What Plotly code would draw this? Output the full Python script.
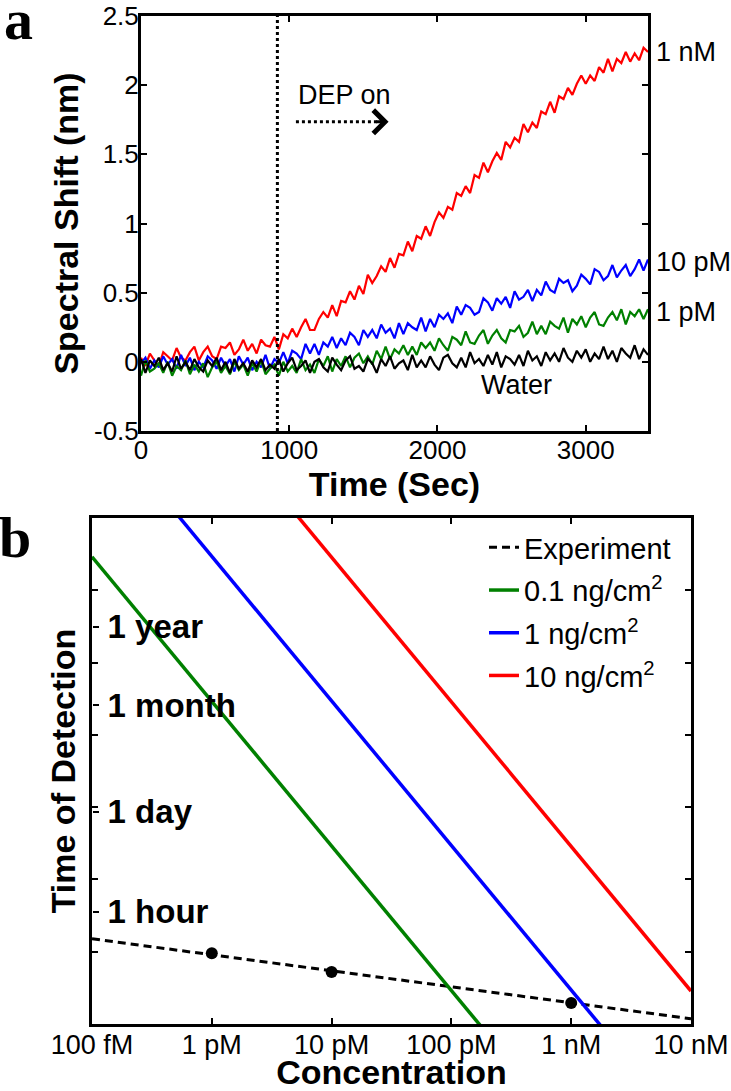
import plotly.graph_objects as go

# ---------------- Panel a data ----------------
time_s = [0, 30, 60, 90, 120, 150, 180, 210, 240, 270, 300, 330, 360, 390, 420, 450, 480, 510,
          540, 570, 600, 630, 660, 690, 720, 750, 780, 810, 840, 870, 900, 930, 960, 990, 1020,
          1050, 1080, 1110, 1140, 1170, 1200, 1230, 1260, 1290, 1320, 1350, 1380, 1410, 1440,
          1470, 1500, 1530, 1560, 1590, 1620, 1650, 1680, 1710, 1740, 1770, 1800, 1830, 1860,
          1890, 1920, 1950, 1980, 2010, 2040, 2070, 2100, 2130, 2160, 2190, 2220, 2250, 2280,
          2310, 2340, 2370, 2400, 2430, 2460, 2490, 2520, 2550, 2580, 2610, 2640, 2670, 2700,
          2730, 2760, 2790, 2820, 2850, 2880, 2910, 2940, 2970, 3000, 3030, 3060, 3090, 3120,
          3150, 3180, 3210, 3240, 3270, 3300, 3330, 3360, 3390, 3420]

shift_1nM = [0.03, -0.03, 0.06, 0.01, -0.03, 0.07, 0.04, 0.01, 0.10, 0.03, 0.01, 0.07, 0.11, 0.01,
             0.07, 0.11, 0.04, 0.02, 0.11, 0.10, 0.14, 0.05, 0.09, 0.16, 0.08, 0.13, 0.06, 0.16,
             0.12, 0.11, 0.18, 0.09, 0.20, 0.17, 0.24, 0.18, 0.25, 0.31, 0.23, 0.23, 0.31, 0.36,
             0.32, 0.41, 0.33, 0.44, 0.43, 0.51, 0.45, 0.55, 0.49, 0.63, 0.57, 0.62, 0.69, 0.65,
             0.75, 0.68, 0.78, 0.77, 0.87, 0.80, 0.91, 0.89, 0.98, 0.91, 1.01, 1.08, 1.04, 1.12,
             1.10, 1.22, 1.20, 1.27, 1.22, 1.35, 1.33, 1.44, 1.37, 1.45, 1.51, 1.46, 1.59, 1.55,
             1.62, 1.59, 1.72, 1.66, 1.73, 1.69, 1.81, 1.79, 1.88, 1.80, 1.92, 1.90, 1.98, 1.93,
             2.01, 2.07, 2.01, 2.07, 2.03, 2.13, 2.09, 2.19, 2.10, 2.19, 2.16, 2.24, 2.17, 2.23,
             2.18, 2.27, 2.24]

shift_10pM = [-0.01, 0.03, -0.05, 0.01, -0.04, 0.04, -0.02, 0.02, -0.05, 0.05, -0.03, 0.03, -0.06,
              0.00, -0.04, 0.04, 0.01, -0.05, 0.03, -0.03, 0.02, -0.07, 0.04, -0.02, 0.03, -0.06,
              0.00, -0.04, 0.05, -0.05, 0.02, -0.01, 0.07, -0.01, 0.08, 0.06, 0.02, 0.13, 0.06,
              0.13, 0.05, 0.14, 0.11, 0.18, 0.10, 0.17, 0.12, 0.21, 0.18, 0.12, 0.23, 0.18, 0.23,
              0.17, 0.27, 0.21, 0.24, 0.17, 0.28, 0.20, 0.28, 0.25, 0.23, 0.32, 0.22, 0.31, 0.25,
              0.34, 0.31, 0.35, 0.28, 0.40, 0.34, 0.41, 0.39, 0.34, 0.36, 0.46, 0.43, 0.37, 0.46,
              0.42, 0.47, 0.39, 0.51, 0.45, 0.47, 0.52, 0.44, 0.52, 0.48, 0.58, 0.52, 0.50, 0.60,
              0.57, 0.59, 0.51, 0.55, 0.63, 0.60, 0.56, 0.67, 0.65, 0.59, 0.62, 0.70, 0.61, 0.66,
              0.70, 0.62, 0.67, 0.74, 0.66, 0.74]

shift_1pM = [-0.10, 0.01, -0.07, -0.05, -0.01, -0.08, 0.00, -0.10, -0.03, -0.06, 0.01, -0.09,
             -0.02, -0.07, -0.01, -0.11, -0.04, 0.00, -0.08, -0.03, -0.09, 0.00, -0.06, -0.02,
             -0.10, -0.01, -0.07, 0.01, -0.09, -0.05, -0.02, -0.10, 0.00, -0.07, -0.03, -0.08,
             0.02, -0.06, -0.02, -0.08, 0.02, -0.03, 0.04, -0.07, 0.02, -0.03, 0.04, -0.04, 0.03,
             0.06, -0.01, 0.04, -0.02, 0.08, 0.02, 0.11, 0.02, 0.09, 0.06, 0.12, 0.05, 0.11, 0.05,
             0.14, 0.10, 0.14, 0.08, 0.17, 0.12, 0.08, 0.18, 0.16, 0.12, 0.22, 0.14, 0.13, 0.19,
             0.23, 0.13, 0.19, 0.23, 0.17, 0.14, 0.23, 0.22, 0.26, 0.18, 0.21, 0.29, 0.20, 0.26,
             0.20, 0.29, 0.26, 0.24, 0.32, 0.21, 0.31, 0.27, 0.33, 0.25, 0.32, 0.36, 0.27, 0.26,
             0.32, 0.36, 0.30, 0.38, 0.27, 0.36, 0.33, 0.38, 0.31, 0.38]

shift_water = [0.02, -0.08, 0.01, -0.03, 0.03, -0.06, -0.01, -0.07, 0.04, -0.05, 0.00, -0.06,
               0.02, -0.04, -0.07, 0.01, -0.03, 0.03, -0.06, 0.00, -0.08, 0.02, -0.05, -0.01,
               -0.07, 0.01, -0.04, 0.02, -0.06, -0.02, -0.05, 0.02, -0.07, -0.01, 0.03, -0.06,
               -0.03, 0.01, -0.08, 0.00, 0.02, -0.04, -0.07, 0.03, -0.02, -0.06, 0.01, 0.04,
               -0.05, -0.03, -0.07, 0.02, -0.01, -0.08, 0.02, -0.03, 0.04, -0.05, -0.01, 0.01,
               -0.06, 0.05, -0.04, 0.01, -0.04, 0.04, -0.02, -0.06, 0.03, 0.05, -0.01, -0.04,
               0.03, -0.04, 0.07, -0.01, 0.02, -0.03, 0.05, -0.02, 0.07, -0.04, 0.04, 0.02,
               -0.02, 0.05, -0.03, 0.08, 0.01, 0.04, -0.03, 0.07, 0.01, 0.06, 0.00, 0.10, 0.03,
               0.00, 0.08, 0.03, 0.09, 0.00, 0.06, 0.02, 0.11, 0.02, 0.08, 0.00, 0.10, 0.06,
               0.03, 0.12, 0.02, 0.09, 0.05]

a_x_ticks = [0, 1000, 2000, 3000]
a_y_ticks = [-0.5, 0, 0.5, 1, 1.5, 2, 2.5]
a_y_ticktext = ["-0.5", "0", "0.5", "1", "1.5", "2", "2.5"]

dep_on_time = 920
dep_arrow_t = [1045, 1640]
dep_arrow_y = 1.735
dep_text_pos = (1045, 1.93)

end_labels = ["1 nM", "10 pM", "1 pM"]
end_label_y = [2.24, 0.72, 0.36]
water_label_pos = (2530, -0.17)

# ---------------- Panel b data ----------------
conc_M = [1e-13, 1e-8]
t_01 = [2.9e8, 2.9e-2]      # 0.1 ng/cm^2
t_1 = [2.95e10, 2.95e0]     # 1 ng/cm^2
t_10 = [2.86e12, 2.86e2]    # 10 ng/cm^2
fit_t = [1510, 118]         # Experiment fit
exp_conc = [1e-12, 1e-11, 1e-9]
exp_t = [955, 525, 195]

b_x_ticks = [1e-13, 1e-12, 1e-11, 1e-10, 1e-9, 1e-8]
b_x_ticktext = ["100 fM", "1 pM", "10 pM", "100 pM", "1 nM", "10 nM"]
b_y_ticks = [3600, 86400, 2592000, 31536000]
b_y_ticktext = ["1 hour", "1 day", "1 month", "1 year"]
b_y_decades = [1e3, 1e4, 1e5, 1e6, 1e7, 1e8]

W, H = 731, 1091
FONT = "Liberation Sans, Arial, sans-serif"
SERIF = "Liberation Serif, Times New Roman, serif"
RED, BLUE, GREEN, BLACK = "#FF0000", "#0000FF", "#008000", "#000000"


def fx(p):
    return p / W


def fy(p):
    return 1 - p / H


fig = go.Figure()

for ys, col in [(shift_1nM, RED), (shift_10pM, BLUE), (shift_1pM, GREEN), (shift_water, BLACK)]:
    fig.add_trace(go.Scatter(x=time_s, y=ys, mode="lines", line=dict(color=col, width=2.2),
                             showlegend=False, xaxis="x", yaxis="y"))

# panel b
fig.add_trace(go.Scatter(x=conc_M, y=fit_t, mode="lines", name="Experiment",
                         line=dict(color=BLACK, width=3, dash="8px,5px"),
                         legendgroup="g0", xaxis="x2", yaxis="y2"))
for ys, col, nm, g in [(t_01, GREEN, "0.1 ng/cm<sup>2</sup>", "g1"),
                       (t_1, BLUE, "1 ng/cm<sup>2</sup>", "g2"),
                       (t_10, RED, "10 ng/cm<sup>2</sup>", "g3")]:
    fig.add_trace(go.Scatter(x=conc_M, y=ys, mode="lines", name=nm, legendgroup=g,
                             line=dict(color=col, width=3.5), xaxis="x2", yaxis="y2"))
fig.add_trace(go.Scatter(x=exp_conc, y=exp_t, mode="markers", showlegend=False,
                         marker=dict(color=BLACK, size=12), xaxis="x2", yaxis="y4"))

axis_common = dict(showline=True, linecolor=BLACK, linewidth=3, showgrid=False, zeroline=False,
                   ticks="inside", tickcolor=BLACK, tickwidth=2, ticklen=6, color=BLACK)

fig.update_layout(
    width=W, height=H,
    margin=dict(l=0, r=0, t=0, b=0),
    paper_bgcolor="white", plot_bgcolor="white",
    font=dict(family=FONT, color=BLACK, size=26),
    xaxis=dict(domain=[fx(141), fx(648)], anchor="y", range=[0, 3420],
               tickmode="array", tickvals=a_x_ticks, mirror="ticks",
               tickfont=dict(size=26, color=BLACK), ticklabelstandoff=-6,
               title=dict(text="<b>Time (Sec)</b>", font=dict(size=34, color=BLACK), standoff=0),
               automargin=False, **axis_common),
    yaxis=dict(domain=[fy(431), fy(16)], anchor="x", range=[-0.5, 2.5],
               tickmode="array", tickvals=a_y_ticks, ticktext=a_y_ticktext, mirror="ticks",
               tickfont=dict(size=26, color=BLACK), ticklabelstandoff=-6,
               title=dict(text="<b>Spectral Shift (nm)</b>", font=dict(size=34, color=BLACK),
                          standoff=6),
               automargin=False, **axis_common),
    xaxis2=dict(domain=[fx(92), fx(691)], anchor="y2", type="log", range=[-13, -8],
                tickmode="array", tickvals=b_x_ticks, ticktext=b_x_ticktext, mirror="ticks",
                tickfont=dict(size=27, color=BLACK), ticklabelstandoff=-5,
                title=dict(text="<b>Concentration</b>", font=dict(size=34, color=BLACK),
                           standoff=18),
                automargin=False, **axis_common),
    yaxis2=dict(domain=[fy(1024), fy(518)], anchor="x2", type="log", range=[2, 9],
                tickmode="array", tickvals=b_y_decades, showticklabels=False, mirror="ticks",
                title=dict(text="<b>Time of Detection</b>", font=dict(size=34, color=BLACK),
                           standoff=4),
                automargin=False, **axis_common),
    yaxis4=dict(overlaying="y2", anchor="free", position=fx(92), side="right", type="log",
                range=[2, 9], tickmode="array", tickvals=b_y_ticks, ticktext=b_y_ticktext,
                ticks="outside", ticklen=6, tickwidth=2, tickcolor=BLACK, color=BLACK,
                showline=False, showgrid=False, zeroline=False, ticklabelstandoff=2,
                tickfont=dict(size=33, family=FONT, weight="bold", color=BLACK),
                automargin=False),
    legend=dict(x=fx(484), y=fy(522), xanchor="left", yanchor="top",
                bgcolor="rgba(0,0,0,0)", font=dict(size=29, color=BLACK), tracegroupgap=2,
                traceorder="grouped", itemwidth=30),
)

# DEP on marker line and arrow
fig.add_shape(type="line", xref="x", yref="y domain", x0=dep_on_time, x1=dep_on_time, y0=0, y1=1,
              line=dict(color=BLACK, width=3, dash="dot"))
fig.add_shape(type="line", xref="x", yref="y", x0=dep_arrow_t[0], x1=dep_arrow_t[1],
              y0=dep_arrow_y, y1=dep_arrow_y, line=dict(color=BLACK, width=3, dash="dot"))

anns = [
    dict(x=dep_arrow_t[1] + 30, y=dep_arrow_y, xref="x", yref="y", text="", showarrow=True,
         ax=-14, ay=0, arrowhead=4, arrowsize=1.5, arrowwidth=3, arrowcolor=BLACK),
    dict(x=dep_text_pos[0], y=dep_text_pos[1], xref="x", yref="y", text="DEP on",
         showarrow=False, xanchor="left", yanchor="middle", font=dict(size=27, color=BLACK)),
    dict(x=water_label_pos[0], y=water_label_pos[1], xref="x", yref="y", text="Water",
         showarrow=False, xanchor="center", yanchor="middle", font=dict(size=27, color=BLACK)),
    dict(x=fx(18), y=fy(20), xref="paper", yref="paper", text="<b>a</b>", showarrow=False,
         xanchor="center", yanchor="middle", font=dict(size=58, family=SERIF, color=BLACK)),
    dict(x=fx(15), y=fy(537), xref="paper", yref="paper", text="<b>b</b>", showarrow=False,
         xanchor="center", yanchor="middle", font=dict(size=58, family=SERIF, color=BLACK)),
]
for txt, yv in zip(end_labels, end_label_y):
    anns.append(dict(x=3420, y=yv, xref="x", yref="y", text=txt, showarrow=False,
                     xanchor="left", yanchor="middle", xshift=6, font=dict(size=27, color=BLACK)))
fig.update_layout(annotations=anns)

fig.write_html(
    "out.html",
    config={"displayModeBar": False},
    post_script="document.body.style.margin='0';document.body.style.padding='0';"
                "document.body.style.overflow='hidden';",
)
